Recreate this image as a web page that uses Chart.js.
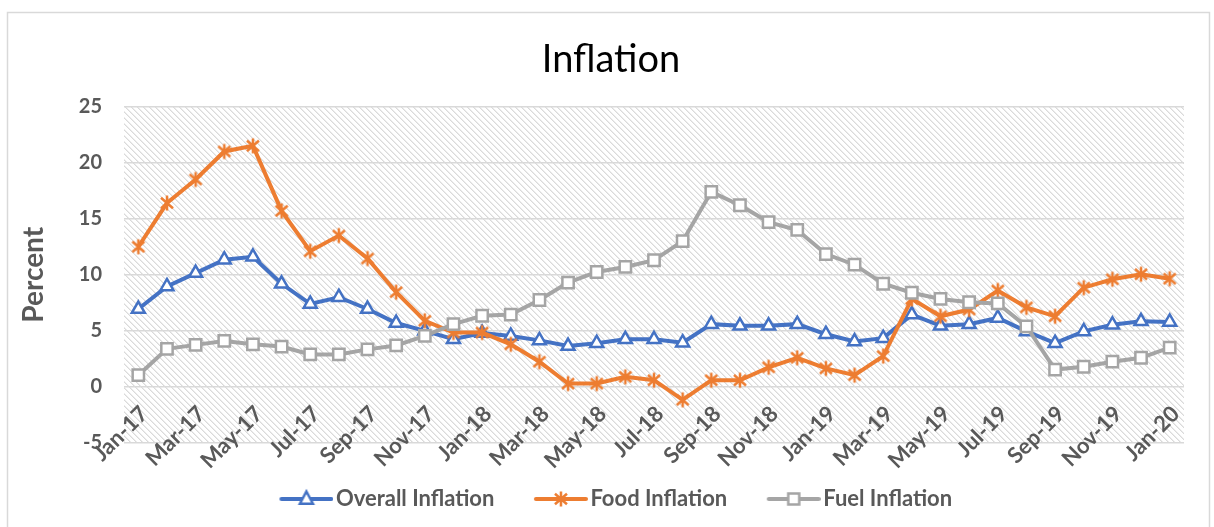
<!DOCTYPE html>
<html>
<head>
<meta charset="utf-8">
<script src="https://cdn.jsdelivr.net/npm/chart.js@4.4.1/dist/chart.umd.min.js"></script>
<style>
  html, body { margin: 0; padding: 0; background: #ffffff; }
  #wrap { width: 1214px; height: 527px; position: relative; }
</style>
</head>
<body>
<div id="wrap"><canvas id="c" width="1214" height="527"></canvas></div>
<script>
// ---- Data ----
const months = [
  'Jan-17','Feb-17','Mar-17','Apr-17','May-17','Jun-17','Jul-17','Aug-17','Sep-17','Oct-17','Nov-17','Dec-17',
  'Jan-18','Feb-18','Mar-18','Apr-18','May-18','Jun-18','Jul-18','Aug-18','Sep-18','Oct-18','Nov-18','Dec-18',
  'Jan-19','Feb-19','Mar-19','Apr-19','May-19','Jun-19','Jul-19','Aug-19','Sep-19','Oct-19','Nov-19','Dec-19',
  'Jan-20'
];
const overallInflation = [
  6.95, 8.96, 10.15, 11.35, 11.6, 9.2, 7.4, 8.0, 6.95, 5.7, 5.0, 4.25,
  4.8, 4.55, 4.15, 3.65, 3.9, 4.25, 4.25, 3.95, 5.6, 5.45, 5.45, 5.6,
  4.7, 4.05, 4.35, 6.45, 5.45, 5.6, 6.15, 4.95, 3.9, 4.95, 5.55, 5.85,
  5.8
];
const foodInflation = [
  12.5, 16.4, 18.5, 21.0, 21.5, 15.7, 12.1, 13.5, 11.45, 8.45, 5.9, 4.85,
  4.85, 3.8, 2.25, 0.3, 0.3, 0.9, 0.6, -1.15, 0.6, 0.6, 1.75, 2.6,
  1.65, 1.05, 2.75, 7.85, 6.3, 6.9, 8.6, 7.1, 6.3, 8.85, 9.6, 10.05,
  9.65
];
const fuelInflation = [
  1.05, 3.4, 3.75, 4.1, 3.8, 3.6, 2.9, 2.9, 3.35, 3.7, 4.55, 5.6,
  6.35, 6.45, 7.75, 9.3, 10.25, 10.7, 11.3, 13.0, 17.4, 16.2, 14.7, 14.0,
  11.85, 10.9, 9.2, 8.4, 7.85, 7.55, 7.45, 5.4, 1.55, 1.8, 2.25, 2.6,
  3.5
];
const seriesNames = ['Overall Inflation', 'Food Inflation', 'Fuel Inflation'];
const yTicks = [-5, 0, 5, 10, 15, 20, 25];

// ---- Styles ----
const BLUE = '#4472C4', ORANGE = '#ED7D31', GRAY = '#A5A5A5', TEXT = '#595959';
const FONT = 'Lato, "Open Sans", sans-serif';

// hatch pattern
function makeHatch() {
  const n = 6;
  const c = document.createElement('canvas');
  c.width = n; c.height = n;
  const g = c.getContext('2d');
  const img = g.createImageData(n, n);
  for (let y = 0; y < n; y++) {
    for (let x = 0; x < n; x++) {
      const d = ((x - y) % n + n) % n;
      let v = 255;
      if (d === 0) v = 218;
      else if (d === 1) v = 236;
      const i = (y * n + x) * 4;
      img.data[i] = v; img.data[i + 1] = v; img.data[i + 2] = v; img.data[i + 3] = 255;
    }
  }
  g.putImageData(img, 0, 0);
  return c;
}

function drawStar(g, cx, cy, r, color) {
  g.strokeStyle = color; g.lineWidth = 2.5; g.lineCap = 'butt';
  g.beginPath();
  g.moveTo(cx, cy - r); g.lineTo(cx, cy + r);
  g.moveTo(cx - r * 0.8, cy - r * 0.7); g.lineTo(cx + r * 0.8, cy + r * 0.7);
  g.moveTo(cx + r * 0.8, cy - r * 0.7); g.lineTo(cx - r * 0.8, cy + r * 0.7);
  g.stroke();
}

function starImage(color) {
  const c = document.createElement('canvas');
  c.width = 18; c.height = 18;
  drawStar(c.getContext('2d'), 9, 9, 7.5, color);
  return c;
}

// legend icon: image 72px wide, centred on the legend box; line drawn in its right part
function legendIcon(color, kind) {
  const c = document.createElement('canvas');
  c.width = 72; c.height = 22;
  const g = c.getContext('2d');
  const cy = 11;
  g.strokeStyle = color; g.lineWidth = 4; g.lineCap = 'round';
  g.beginPath(); g.moveTo(20, cy); g.lineTo(70, cy); g.stroke();
  const cx = 45;
  g.lineWidth = 2.5; g.lineCap = 'butt';
  if (kind === 'triangle') {
    const r = 7.5;
    g.fillStyle = '#fff';
    g.beginPath();
    g.moveTo(cx, cy - r);
    g.lineTo(cx + r * 0.866, cy + r * 0.5 + 1);
    g.lineTo(cx - r * 0.866, cy + r * 0.5 + 1);
    g.closePath(); g.fill(); g.stroke();
  } else if (kind === 'star') {
    drawStar(g, cx, cy, 7.5, color);
  } else {
    const s = 5.5;
    g.fillStyle = '#fff';
    g.fillRect(cx - s, cy - s, 2 * s, 2 * s);
    g.strokeRect(cx - s, cy - s, 2 * s, 2 * s);
  }
  return c;
}

const hatch = makeHatch();
const icons = [legendIcon(BLUE, 'triangle'), legendIcon(ORANGE, 'star'), legendIcon(GRAY, 'rect')];
const starPt = starImage(ORANGE);

const bgPlugin = {
  id: 'bgPlugin',
  beforeDraw(chart) {
    const {ctx, chartArea: a} = chart;
    ctx.save();
    ctx.fillStyle = '#ffffff';
    ctx.fillRect(0, 0, chart.width, chart.height);
    ctx.fillStyle = ctx.createPattern(hatch, 'repeat');
    ctx.fillRect(a.left, a.top, a.right - a.left, a.bottom - a.top);
    ctx.strokeStyle = '#d9d9d9';
    ctx.lineWidth = 1.5;
    ctx.strokeRect(7.5, 12.5, 1202, 530);
    ctx.restore();
  }
};

new Chart(document.getElementById('c'), {
  type: 'line',
  data: {
    labels: months,
    datasets: [
      {
        label: seriesNames[0], data: overallInflation, order: 2,
        borderColor: BLUE, backgroundColor: '#ffffff', borderWidth: 4,
        pointStyle: 'triangle', pointRadius: 7.5, pointBorderWidth: 2.5,
        pointBackgroundColor: '#ffffff', pointBorderColor: BLUE, tension: 0
      },
      {
        label: seriesNames[1], data: foodInflation, order: 1,
        borderColor: ORANGE, backgroundColor: ORANGE, borderWidth: 4,
        pointStyle: starPt, pointRadius: 7.5, pointBorderWidth: 2.5,
        pointBackgroundColor: ORANGE, pointBorderColor: ORANGE, tension: 0
      },
      {
        label: seriesNames[2], data: fuelInflation, order: 0,
        borderColor: GRAY, backgroundColor: '#ffffff', borderWidth: 4,
        pointStyle: 'rect', pointRadius: 8, pointBorderWidth: 2.5,
        pointBackgroundColor: '#ffffff', pointBorderColor: GRAY, tension: 0
      }
    ]
  },
  options: {
    responsive: false,
    animation: false,
    devicePixelRatio: 1,
    layout: { padding: { left: 8, right: 0, top: 14, bottom: 7 } },
    plugins: {
      tooltip: { enabled: false },
      title: {
        display: true, text: 'Inflation', color: '#000000',
        font: { family: FONT, size: 38, weight: 'normal' },
        padding: { top: 23, bottom: 24 }
      },
      subtitle: {
        display: true, position: 'bottom', text: '', weight: 500,
        font: { family: FONT, size: 15, lineHeight: 1 },
        padding: { top: 0, bottom: 0 }
      },
      legend: {
        position: 'bottom',
        labels: {
          usePointStyle: true,
          pointStyleWidth: 55,
          padding: 30,
          color: TEXT,
          font: { family: FONT, size: 22, weight: 'bold' },
          generateLabels(chart) {
            return chart.data.datasets.map((ds, i) => ({
              text: ds.label, pointStyle: icons[i], fillStyle: '#fff',
              strokeStyle: ds.borderColor, lineWidth: 0, hidden: false,
              datasetIndex: i, fontColor: TEXT
            }));
          }
        }
      }
    },
    scales: {
      x: {
        position: { y: 0 },
        offset: true,
        grid: { display: false, drawTicks: true, tickLength: 14, offset: true },
        border: { display: false },
        ticks: {
          autoSkip: false, maxRotation: 45, minRotation: 45, padding: 0, labelOffset: 6,
          color: TEXT, font: { family: FONT, size: 22, weight: 'bold' },
          callback: (v, i) => (i % 2 === 0 ? months[i] : '')
        }
      },
      y: {
        min: -5, max: 25,
        afterBuildTicks(scale) { scale.ticks = yTicks.map(v => ({ value: v })); },
        grid: { color: '#d9d9d9', lineWidth: 1.5, drawTicks: false },
        border: { display: false },
        ticks: {
          padding: 22, color: TEXT,
          font: { family: FONT, size: 20, weight: 'bold' }
        },
        title: {
          display: true, text: 'Percent', color: TEXT,
          font: { family: FONT, size: 28, weight: 'bold' },
          padding: { top: 9, bottom: 0 }
        },
        afterFit(scale) { scale.width = 116; }
      },
      yRight: {
        position: 'right',
        min: -5, max: 25,
        grid: { display: false, drawTicks: false },
        border: { display: false },
        ticks: { display: false },
        afterFit(scale) { scale.width = 30; }
      }
    }
  },
  plugins: [bgPlugin]
});
</script>
</body>
</html>
